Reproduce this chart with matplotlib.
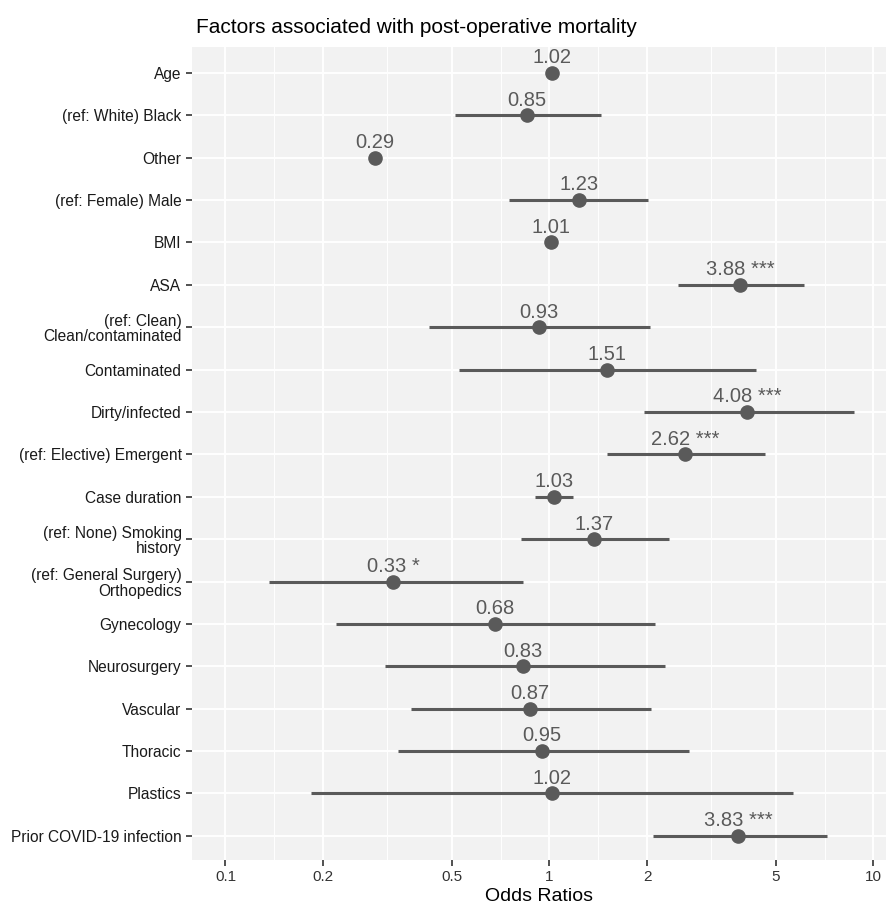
import matplotlib
matplotlib.use("Agg")
from matplotlib import pyplot as plt
import numpy as np

plt.rcParams['font.family'] = ['Liberation Sans', 'DejaVu Sans']

terms = ["Age", "(ref: White) Black", "Other", "(ref: Female) Male", "BMI", "ASA",
         "(ref: Clean)\nClean/contaminated", "Contaminated", "Dirty/infected",
         "(ref: Elective) Emergent", "Case duration", "(ref: None) Smoking\nhistory",
         "(ref: General Surgery)\nOrthopedics", "Gynecology", "Neurosurgery",
         "Vascular", "Thoracic", "Plastics", "Prior COVID-19 infection"]
odds = [1.02, 0.85, 0.29, 1.23, 1.01, 3.88, 0.93, 1.51, 4.08, 2.62, 1.03, 1.37,
        0.33, 0.68, 0.83, 0.87, 0.95, 1.02, 3.83]
ci_low = [1.01, 0.51, 0.29, 0.75, 1.00, 2.49, 0.425, 0.527, 1.96, 1.51, 0.90, 0.815,
          0.136, 0.219, 0.31, 0.374, 0.34, 0.184, 2.09]
ci_high = [1.03, 1.44, 0.29, 2.01, 1.02, 6.10, 2.04, 4.34, 8.68, 4.63, 1.18, 2.34,
           0.828, 2.12, 2.27, 2.06, 2.69, 5.65, 7.19]
stars = ["", "", "", "", "", "***", "", "", "***", "***", "", "",
         "*", "", "", "", "", "", "***"]
xticks = [0.1, 0.2, 0.5, 1, 2, 5, 10]

col = "#5a5a5a"
fig = plt.figure(figsize=(8.9, 9.06), dpi=100)
ax = fig.add_axes([0.2157, 0.0508, 0.7798, 0.8973])
ax.set_facecolor("#f2f2f2")
ax.set_xscale("log")

y = np.arange(len(terms))
for i in range(len(terms)):
    ax.plot([ci_low[i], ci_high[i]], [y[i], y[i]], color=col, lw=2.2, solid_capstyle="butt", zorder=3)
    ax.plot(odds[i], y[i], "o", color=col, ms=9.5, zorder=4)
    lab = "%.2f" % odds[i]
    if stars[i]:
        lab += " " + stars[i]
    ax.annotate(lab, (odds[i], y[i]), xytext=(0, 4), textcoords="offset points",
                ha="center", va="bottom", fontsize=14.5, color=col)

ax.set_xlim(0.0788, 10.93)
ax.set_ylim(len(terms) - 1 + 0.57, -0.61)
ax.set_yticks(y)
ax.set_yticklabels(terms, fontsize=11.2, color="#1a1a1a", ha="right", linespacing=1.05)
ax.set_xticks(xticks)
ax.set_xticklabels([str(v) for v in xticks], fontsize=11, color="#333333")
ax.xaxis.set_minor_locator(matplotlib.ticker.FixedLocator(
    [np.sqrt(xticks[k] * xticks[k + 1]) for k in range(len(xticks) - 1)]))
ax.xaxis.set_minor_formatter(matplotlib.ticker.NullFormatter())
ax.tick_params(axis="x", which="minor", length=0)
ax.tick_params(axis="both", which="major", length=4, color="#333333", width=1.2, pad=3.5)
ax.grid(True, which="major", color="white", lw=1.4)
ax.grid(True, which="minor", axis="x", color="white", lw=0.7)
ax.set_axisbelow(True)
for s in ax.spines.values():
    s.set_visible(False)

ax.set_xlabel("Odds Ratios", fontsize=14, color="black", labelpad=2.5)
fig.text(0.2202, 1 - 33 / 906, "Factors associated with post-operative mortality",
         fontsize=15, ha="left", va="baseline")

fig.savefig("out.png", dpi=100, facecolor="white")
